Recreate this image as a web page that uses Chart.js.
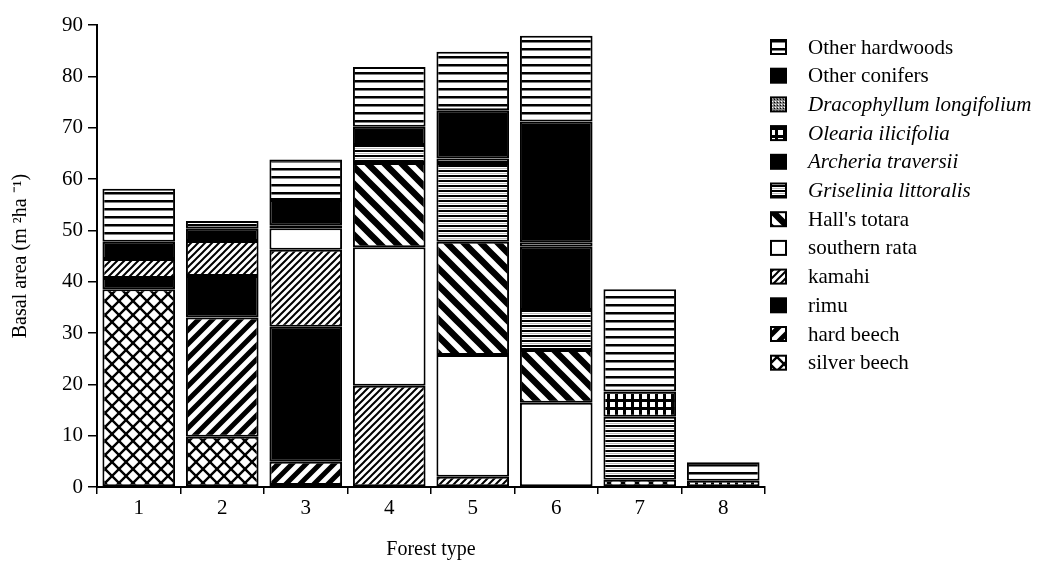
<!DOCTYPE html>
<html>
<head>
<meta charset="utf-8">
<script src="https://cdn.jsdelivr.net/npm/chart.js@4/dist/chart.umd.min.js"></script>
<style>
  html, body { margin: 0; padding: 0; background: #fff; }
  #wrap { width: 1043px; height: 562px; position: relative; }
</style>
</head>
<body>
<div id="wrap"><canvas id="c" width="1043" height="562"></canvas></div>
<script>
// ---- data ----
const categories = ['1', '2', '3', '4', '5', '6', '7', '8'];
const yTicks = [0, 10, 20, 30, 40, 50, 60, 70, 80, 90];

const silverBeech    = [38.5, 9.8, 0.4, 0, 0, 0, 1.4, 0];
const hardBeech      = [0, 23.2, 4.5, 0, 0, 0, 0, 0];
const rimu           = [2.2, 8.1, 26.3, 0, 0, 0, 0, 0];
const kamahi         = [3.7, 6.8, 15.0, 19.7, 2.0, 0, 0, 0];
const southernRata   = [0, 0, 4.2, 27.0, 23.7, 16.4, 0, 0];
const hallsTotara    = [0, 0, 0.6, 16.4, 22.1, 10.3, 0, 0];
const griselinia     = [0, 0, 0, 3.5, 15.3, 7.8, 12.3, 0];
const archeria       = [0, 0, 0, 0, 0, 12.3, 0, 0];
const olearia        = [0, 0, 0, 0, 0, 0, 4.9, 1.2];
const dracophyllum   = [0, 0, 0, 0, 0.9, 0.9, 0, 0];
const otherConifers  = [3.4, 2.4, 4.9, 3.6, 9.4, 23.5, 0, 0];
const otherHardwoods = [10.3, 1.5, 7.9, 11.6, 11.4, 16.7, 19.9, 3.6];

const seriesNames = ['silver beech', 'hard beech', 'rimu', 'kamahi', 'southern rata', "Hall's totara",
  'Griselinia littoralis', 'Archeria traversii', 'Olearia ilicifolia', 'Dracophyllum longifolium',
  'Other conifers', 'Other hardwoods'];
const seriesValues = [silverBeech, hardBeech, rimu, kamahi, southernRata, hallsTotara,
  griselinia, archeria, olearia, dracophyllum, otherConifers, otherHardwoods];
const italicSeries = ['Griselinia littoralis', 'Archeria traversii', 'Olearia ilicifolia', 'Dracophyllum longifolium'];

// ---- patterns ----
const mainCtx = document.getElementById('c').getContext('2d');
function tile(w, h, draw) {
  const c = document.createElement('canvas');
  c.width = w; c.height = h;
  const g = c.getContext('2d');
  g.fillStyle = '#fff'; g.fillRect(0, 0, w, h);
  draw(g, w, h);
  return mainCtx.createPattern(c, 'repeat');
}
function diag(g, s, lw, forward) {
  g.strokeStyle = '#000'; g.lineWidth = lw; g.lineCap = 'square';
  g.beginPath();
  for (let k = -s; k <= s; k += s) {
    if (forward) { g.moveTo(k, s); g.lineTo(k + s, 0); }
    else { g.moveTo(k, 0); g.lineTo(k + s, s); }
  }
  g.stroke();
}
const patterns = {
  cross: tile(14, 14, (g, s) => { diag(g, s, 2.4, true); diag(g, s, 2.4, false); }),
  slashWide: tile(14, 14, (g, s) => diag(g, s, 5, true)),
  slashFine: tile(7, 7, (g, s) => diag(g, s, 2, true)),
  backWide: tile(17, 17, (g, s) => diag(g, s, 6.5, false)),
  hDense: tile(4, 5, (g, w) => { g.fillStyle = '#000'; g.fillRect(0, 0, w, 2); g.fillStyle = '#bbb'; g.fillRect(0, 3, w, 1); }),
  hLines: tile(8, 8, (g, w) => { g.fillStyle = '#000'; g.fillRect(0, 0, w, 2.5); }),
  grid: tile(8, 8, (g, w) => { g.fillStyle = '#000'; g.fillRect(0, 0, 8, 8); g.fillStyle = '#fff'; g.fillRect(2, 2, 5, 5); }),
  stipple: tile(3, 3, (g) => { g.fillStyle = '#888'; g.fillRect(0, 0, 3, 3); g.fillStyle = '#000'; g.fillRect(0, 0, 1, 1); g.fillStyle = '#fff'; g.fillRect(1, 2, 1, 1); }),
};
const fills = [patterns.cross, patterns.slashWide, '#000', patterns.slashFine, '#fff', patterns.backWide,
  patterns.hDense, '#000', patterns.grid, patterns.stipple, '#000', patterns.hLines];

const datasets = seriesNames.map((name, i) => ({
  label: name,
  data: seriesValues[i],
  backgroundColor: fills[i],
  borderColor: '#000',
  borderWidth: 2,
  borderSkipped: false,
  barPercentage: 0.87,
  categoryPercentage: 1.0,
}));

const FONT = 'Liberation Serif, Times New Roman, serif';

const legendPlugin = {
  id: 'customLegend',
  afterDraw(chart) {
    const ctx = chart.ctx;
    const ds = chart.data.datasets;
    ctx.save();
    let y = 47;
    for (let i = ds.length - 1; i >= 0; i--) {
      ctx.fillStyle = ds[i].backgroundColor;
      ctx.fillRect(771, y - 7, 15, 14);
      ctx.strokeStyle = '#000';
      ctx.lineWidth = 2;
      ctx.strokeRect(771, y - 7, 15, 14);
      ctx.fillStyle = '#000';
      const it = italicSeries.includes(ds[i].label);
      ctx.font = (it ? 'italic ' : '') + '21px ' + FONT;
      ctx.textBaseline = 'middle';
      ctx.textAlign = 'left';
      ctx.fillText(ds[i].label, 808, y + 1);
      y += 28.7;
    }
    ctx.restore();
  }
};

new Chart(document.getElementById('c'), {
  type: 'bar',
  data: { labels: categories, datasets },
  options: {
    responsive: false,
    animation: false,
    layout: { padding: { left: 0, right: 278, top: 25, bottom: 0 } },
    plugins: { legend: { display: false }, tooltip: { enabled: false } },
    scales: {
      x: {
        stacked: true,
        offset: true,
        grid: { display: true, drawOnChartArea: false, drawTicks: true, tickLength: 7, offset: true, color: '#000', lineWidth: 1.5 },
        border: { display: true, color: '#000', width: 2 },
        ticks: { color: '#000', font: { family: FONT, size: 21 }, padding: 2, maxRotation: 0 },
        title: { display: true, text: 'Forest type', color: '#000', font: { family: FONT, size: 20 }, padding: { top: 4, bottom: 0 } },
        afterFit(scale) { scale.height = 75; }
      },
      y: {
        stacked: true,
        min: 0, max: 90,
        afterBuildTicks(scale) { scale.ticks = yTicks.map(v => ({ value: v })); },
        grid: { display: true, drawOnChartArea: false, drawTicks: true, tickLength: 9, color: '#000', lineWidth: 1.5 },
        border: { display: true, color: '#000', width: 2 },
        ticks: { color: '#000', font: { family: FONT, size: 21 }, padding: 5 },
        title: { display: true, text: 'Basal area (m ²ha ⁻¹)', color: '#000', font: { family: FONT, size: 20 }, padding: { top: 9, bottom: 0 } },
        afterFit(scale) { scale.width = 97; }
      }
    }
  },
  plugins: [legendPlugin]
});
</script>
</body>
</html>
